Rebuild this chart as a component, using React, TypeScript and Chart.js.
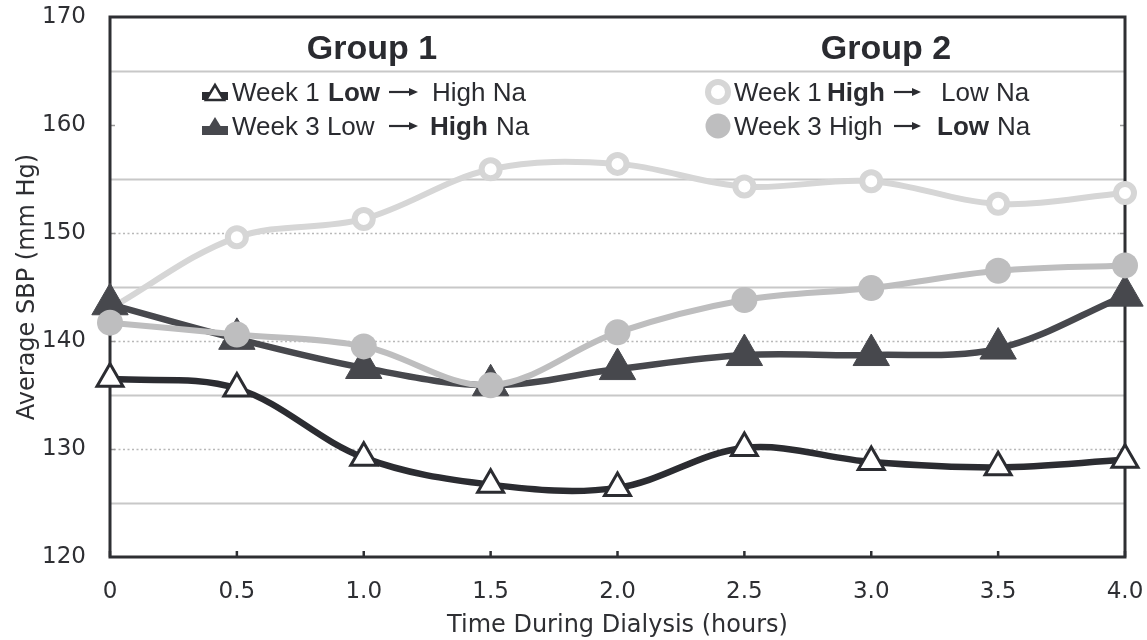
import React, { useEffect, useRef } from 'react';
import { Chart, registerables } from 'chart.js';

Chart.register(...registerables);

const timeLabels = ['0', '0.5', '1.0', '1.5', '2.0', '2.5', '3.0', '3.5', '4.0'];
const week1LowToHigh = [136.5, 135.6, 129.2, 126.7, 126.4, 130.1, 128.8, 128.3, 129.0];
const week3LowToHigh = [143.4, 140.2, 137.5, 135.9, 137.4, 138.7, 138.7, 139.3, 144.2];
const week1HighToLow = [143.0, 149.6, 151.3, 155.9, 156.4, 154.3, 154.8, 152.7, 153.7];
const week3HighToLow = [141.7, 140.6, 139.5, 135.9, 140.8, 143.8, 144.9, 146.5, 147.0];
const solidGrid = [125, 135, 145, 155, 165];
const dottedGrid = [130, 140, 150];
const innerTicks = [130, 140, 150, 160];
const groupTitles = ['Group 1', 'Group 2'];

const DARK = '#2b2c31';
const DARK_FILL = '#47484d';
const LIGHT = '#d6d6d6';
const MID = '#bebebf';

const framePlugin = {
  id: 'frame',
  beforeDatasetsDraw(chart: any) {
    const { ctx, chartArea: a, scales } = chart;
    const y = scales.y;
    const x = scales.x;
    ctx.save();
    ctx.lineWidth = 2;
    ctx.strokeStyle = '#c8c8c8';
    solidGrid.forEach((v) => {
      const py = Math.round(y.getPixelForValue(v)) + 0.5;
      ctx.beginPath();
      ctx.moveTo(a.left, py);
      ctx.lineTo(a.right, py);
      ctx.stroke();
    });
    ctx.setLineDash([2, 2.5]);
    ctx.lineWidth = 1.6;
    ctx.strokeStyle = '#b8b8b8';
    dottedGrid.forEach((v) => {
      const py = Math.round(y.getPixelForValue(v)) + 0.5;
      ctx.beginPath();
      ctx.moveTo(a.left + 4, py);
      ctx.lineTo(a.right - 4, py);
      ctx.stroke();
    });
    ctx.setLineDash([]);
    ctx.lineWidth = 1.5;
    ctx.strokeStyle = '#9a9a9a';
    innerTicks.forEach((v) => {
      const py = Math.round(y.getPixelForValue(v)) + 0.5;
      ctx.beginPath();
      ctx.moveTo(a.left, py);
      ctx.lineTo(a.left + 5, py);
      ctx.moveTo(a.right, py);
      ctx.lineTo(a.right - 5, py);
      ctx.stroke();
    });
    ctx.strokeStyle = '#2e2f33';
    ctx.lineWidth = 2.5;
    timeLabels.forEach((_, i) => {
      const px = x.getPixelForValue(i);
      ctx.beginPath();
      ctx.moveTo(px, a.bottom);
      ctx.lineTo(px, a.bottom - 6);
      ctx.stroke();
    });
    ctx.lineWidth = 3;
    ctx.strokeRect(a.left, a.top, a.right - a.left, a.bottom - a.top);
    ctx.restore();
  },
};

function arrow(ctx: CanvasRenderingContext2D, x1: number, x2: number, yy: number) {
  ctx.save();
  ctx.strokeStyle = DARK;
  ctx.fillStyle = DARK;
  ctx.lineWidth = 2.2;
  ctx.beginPath();
  ctx.moveTo(x1, yy);
  ctx.lineTo(x2 - 6, yy);
  ctx.stroke();
  ctx.beginPath();
  ctx.moveTo(x2, yy);
  ctx.lineTo(x2 - 9, yy - 4);
  ctx.lineTo(x2 - 9, yy + 4);
  ctx.closePath();
  ctx.fill();
  ctx.restore();
}

const legendPlugin = {
  id: 'groupLegend',
  afterDatasetsDraw(chart: any) {
    const ctx: CanvasRenderingContext2D = chart.ctx;
    ctx.save();
    ctx.fillStyle = '#2a2b30';
    ctx.textBaseline = 'alphabetic';
    ctx.textAlign = 'center';
    ctx.font = 'bold 34px "Liberation Sans", Arial, sans-serif';
    ctx.fillText(groupTitles[0], 372, 59);
    ctx.fillText(groupTitles[1], 886, 59);
    ctx.textAlign = 'left';
    const reg = '26px "Liberation Sans", Arial, sans-serif';
    const bold = 'bold 26px "Liberation Sans", Arial, sans-serif';
    const runs: [string, number, number, boolean][] = [
      ['Week 1', 232, 101, false],
      ['Low', 328, 101, true],
      ['High Na', 432, 101, false],
      ['Week 3 Low', 232, 135, false],
      ['High', 430, 135, true],
      ['Na', 496, 135, false],
      ['Week 1', 734, 101, false],
      ['High', 827, 101, true],
      ['Low Na', 941, 101, false],
      ['Week 3 High', 734, 135, false],
      ['Low', 937, 135, true],
      ['Na', 997, 135, false],
    ];
    runs.forEach(([t, x, y, b]) => {
      ctx.font = b ? bold : reg;
      ctx.fillText(t, x, y);
    });
    arrow(ctx, 389, 418, 92);
    arrow(ctx, 389, 418, 126);
    arrow(ctx, 894, 921, 92);
    arrow(ctx, 894, 921, 126);

    // group 1 markers
    ctx.fillStyle = DARK;
    ctx.fillRect(202, 92, 26, 8);
    ctx.beginPath();
    ctx.moveTo(215, 85);
    ctx.lineTo(206, 100);
    ctx.lineTo(224, 100);
    ctx.closePath();
    ctx.fillStyle = '#ffffff';
    ctx.fill();
    ctx.lineWidth = 2.5;
    ctx.strokeStyle = DARK;
    ctx.stroke();

    ctx.fillStyle = DARK_FILL;
    ctx.fillRect(202, 126, 26, 9);
    ctx.beginPath();
    ctx.moveTo(215, 117);
    ctx.lineTo(204, 135);
    ctx.lineTo(226, 135);
    ctx.closePath();
    ctx.fill();

    // group 2 markers
    ctx.beginPath();
    ctx.arc(718, 92, 10, 0, Math.PI * 2);
    ctx.fillStyle = '#ffffff';
    ctx.fill();
    ctx.lineWidth = 6;
    ctx.strokeStyle = LIGHT;
    ctx.stroke();

    ctx.beginPath();
    ctx.arc(718, 126, 12.5, 0, Math.PI * 2);
    ctx.fillStyle = MID;
    ctx.fill();
    ctx.restore();
  },
};

export default function App() {
  const ref = useRef<HTMLCanvasElement | null>(null);
  useEffect(() => {
    if (!ref.current) return;
    const chart = new Chart(ref.current, {
      type: 'line',
      data: {
        labels: timeLabels,
        datasets: [
          {
            label: 'Week 3 High → Low Na',
            data: week3HighToLow,
            borderColor: MID,
            backgroundColor: MID,
            pointBackgroundColor: MID,
            pointBorderColor: MID,
            pointStyle: 'circle',
            pointRadius: 13,
            pointBorderWidth: 0,
            borderWidth: 6,
            tension: 0.35,
            clip: false,
            order: 0,
          },
          {
            label: 'Week 3 Low → High Na',
            data: week3LowToHigh,
            borderColor: DARK_FILL,
            backgroundColor: DARK_FILL,
            pointBackgroundColor: DARK_FILL,
            pointBorderColor: DARK_FILL,
            pointStyle: 'triangle',
            pointRadius: 21,
            pointBorderWidth: 1,
            borderWidth: 6.5,
            tension: 0.35,
            clip: false,
            order: 1,
          },
          {
            label: 'Week 1 High → Low Na',
            data: week1HighToLow,
            borderColor: LIGHT,
            backgroundColor: '#ffffff',
            pointBackgroundColor: '#ffffff',
            pointBorderColor: LIGHT,
            pointStyle: 'circle',
            pointRadius: 9,
            pointBorderWidth: 6,
            borderWidth: 6,
            tension: 0.35,
            clip: false,
            order: 2,
          },
          {
            label: 'Week 1 Low → High Na',
            data: week1LowToHigh,
            borderColor: DARK,
            backgroundColor: '#ffffff',
            pointBackgroundColor: '#ffffff',
            pointBorderColor: DARK,
            pointStyle: 'triangle',
            pointRadius: 15,
            pointBorderWidth: 3,
            borderWidth: 6.5,
            tension: 0.35,
            clip: false,
            order: 3,
          },
        ],
      },
      options: {
        responsive: false,
        animation: false,
        devicePixelRatio: 1,
        layout: { autoPadding: false, padding: { top: 17, right: 22, left: 0, bottom: 0 } },
        plugins: {
          legend: { display: false },
          tooltip: { enabled: false },
        },
        scales: {
          x: {
            type: 'category',
            offset: false,
            grid: { display: false },
            border: { display: false },
            ticks: {
              color: '#2e2f33',
              font: { family: '"DejaVu Sans", sans-serif', size: 23 },
              padding: 13,
              maxRotation: 0,
              autoSkip: false,
            },
            title: {
              display: true,
              text: 'Time During Dialysis (hours)',
              color: '#2e2f33',
              font: { family: '"DejaVu Sans", sans-serif', size: 24 },
              padding: { top: 0, bottom: 0 },
            },
            afterFit: (s: any) => {
              s.height = 83;
              s.paddingLeft = 0;
              s.paddingRight = 0;
            },
          },
          y: {
            min: 120,
            max: 170,
            grid: { display: false },
            border: { display: false },
            ticks: {
              stepSize: 10,
              color: '#2e2f33',
              font: { family: '"DejaVu Sans", sans-serif', size: 23 },
              padding: 16,
            },
            title: {
              display: true,
              text: 'Average SBP (mm Hg)',
              color: '#2e2f33',
              font: { family: '"DejaVu Sans", sans-serif', size: 24 },
              padding: { top: 13, bottom: 0 },
            },
            afterFit: (s: any) => {
              s.width = 110;
              s.paddingTop = 0;
              s.paddingBottom = 0;
            },
          },
        },
      },
      plugins: [framePlugin, legendPlugin],
    } as any);
    return () => chart.destroy();
  }, []);
  return (
    <div style={{ position: 'absolute', left: 0, top: 0, width: 1147, height: 640, background: '#fff' }}>
      <canvas ref={ref} width={1147} height={640} style={{ display: 'block', width: 1147, height: 640 }} />
    </div>
  );
}
